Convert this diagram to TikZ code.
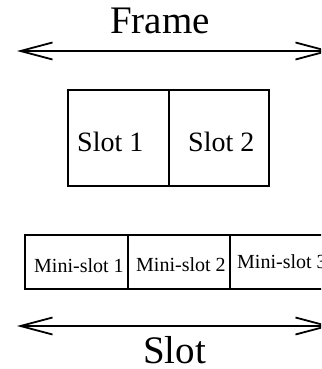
\documentclass[tikz,border=0pt]{standalone}
\usepackage{fontspec}
\setmainfont{Liberation Serif}
\usetikzlibrary{arrows.meta}
\begin{document}
\begin{tikzpicture}[x=1pt,y=-1pt,
  ln/.style={line width=1.8pt},
  box/.style={draw,line width=1.8pt,inner sep=0pt,anchor=north west},
  dbl/.style={line width=1.8pt,{Straight Barb[length=32pt,width=17pt]}-{Straight Barb[length=32pt,width=17pt]}},
  big/.style={font=\fontsize{39}{39}\selectfont,inner sep=0pt,anchor=base west},
  mid/.style={font=\fontsize{28}{28}\selectfont,inner sep=0pt,anchor=base west},
  small/.style={font=\fontsize{20}{20}\selectfont,inner sep=0pt,anchor=base west}]
\useasboundingbox (0,0) rectangle (321,369);
\clip (0,0) rectangle (321,369);
% Frame
\node[big] (frame) at (110,34) {Frame};
\coordinate (fl) at (17,51);
\coordinate (fr) at (331,51);
\draw[dbl] (fl) -- (fr);
% Slots
\node[box,minimum width=101pt,minimum height=96pt] (s1) at (67,89) {};
\node[box,minimum width=100pt,minimum height=96pt] (s2) at (168,89) {};
\node[mid] (t1) at (77,151) {Slot 1};
\node[mid] (t2) at (188,151) {Slot 2};
% Mini-slots
\node[box,minimum width=103pt,minimum height=54pt] (m1) at (24,234) {};
\node[box,minimum width=102pt,minimum height=54pt] (m2) at (127,234) {};
\node[box,minimum width=102pt,minimum height=54pt] (m3) at (229,234) {};
\node[small] (u1) at (34,272) {Mini-slot 1};
\node[small] (u2) at (136,271) {Mini-slot 2};
\node[small] (u3) at (237,268) {Mini-slot 3};
% Slot arrow
\coordinate (sl) at (17,326);
\coordinate (sr) at (331,326);
\draw[dbl] (sl) -- (sr);
\node[big] (slot) at (143,363) {Slot};
\end{tikzpicture}
\end{document}
